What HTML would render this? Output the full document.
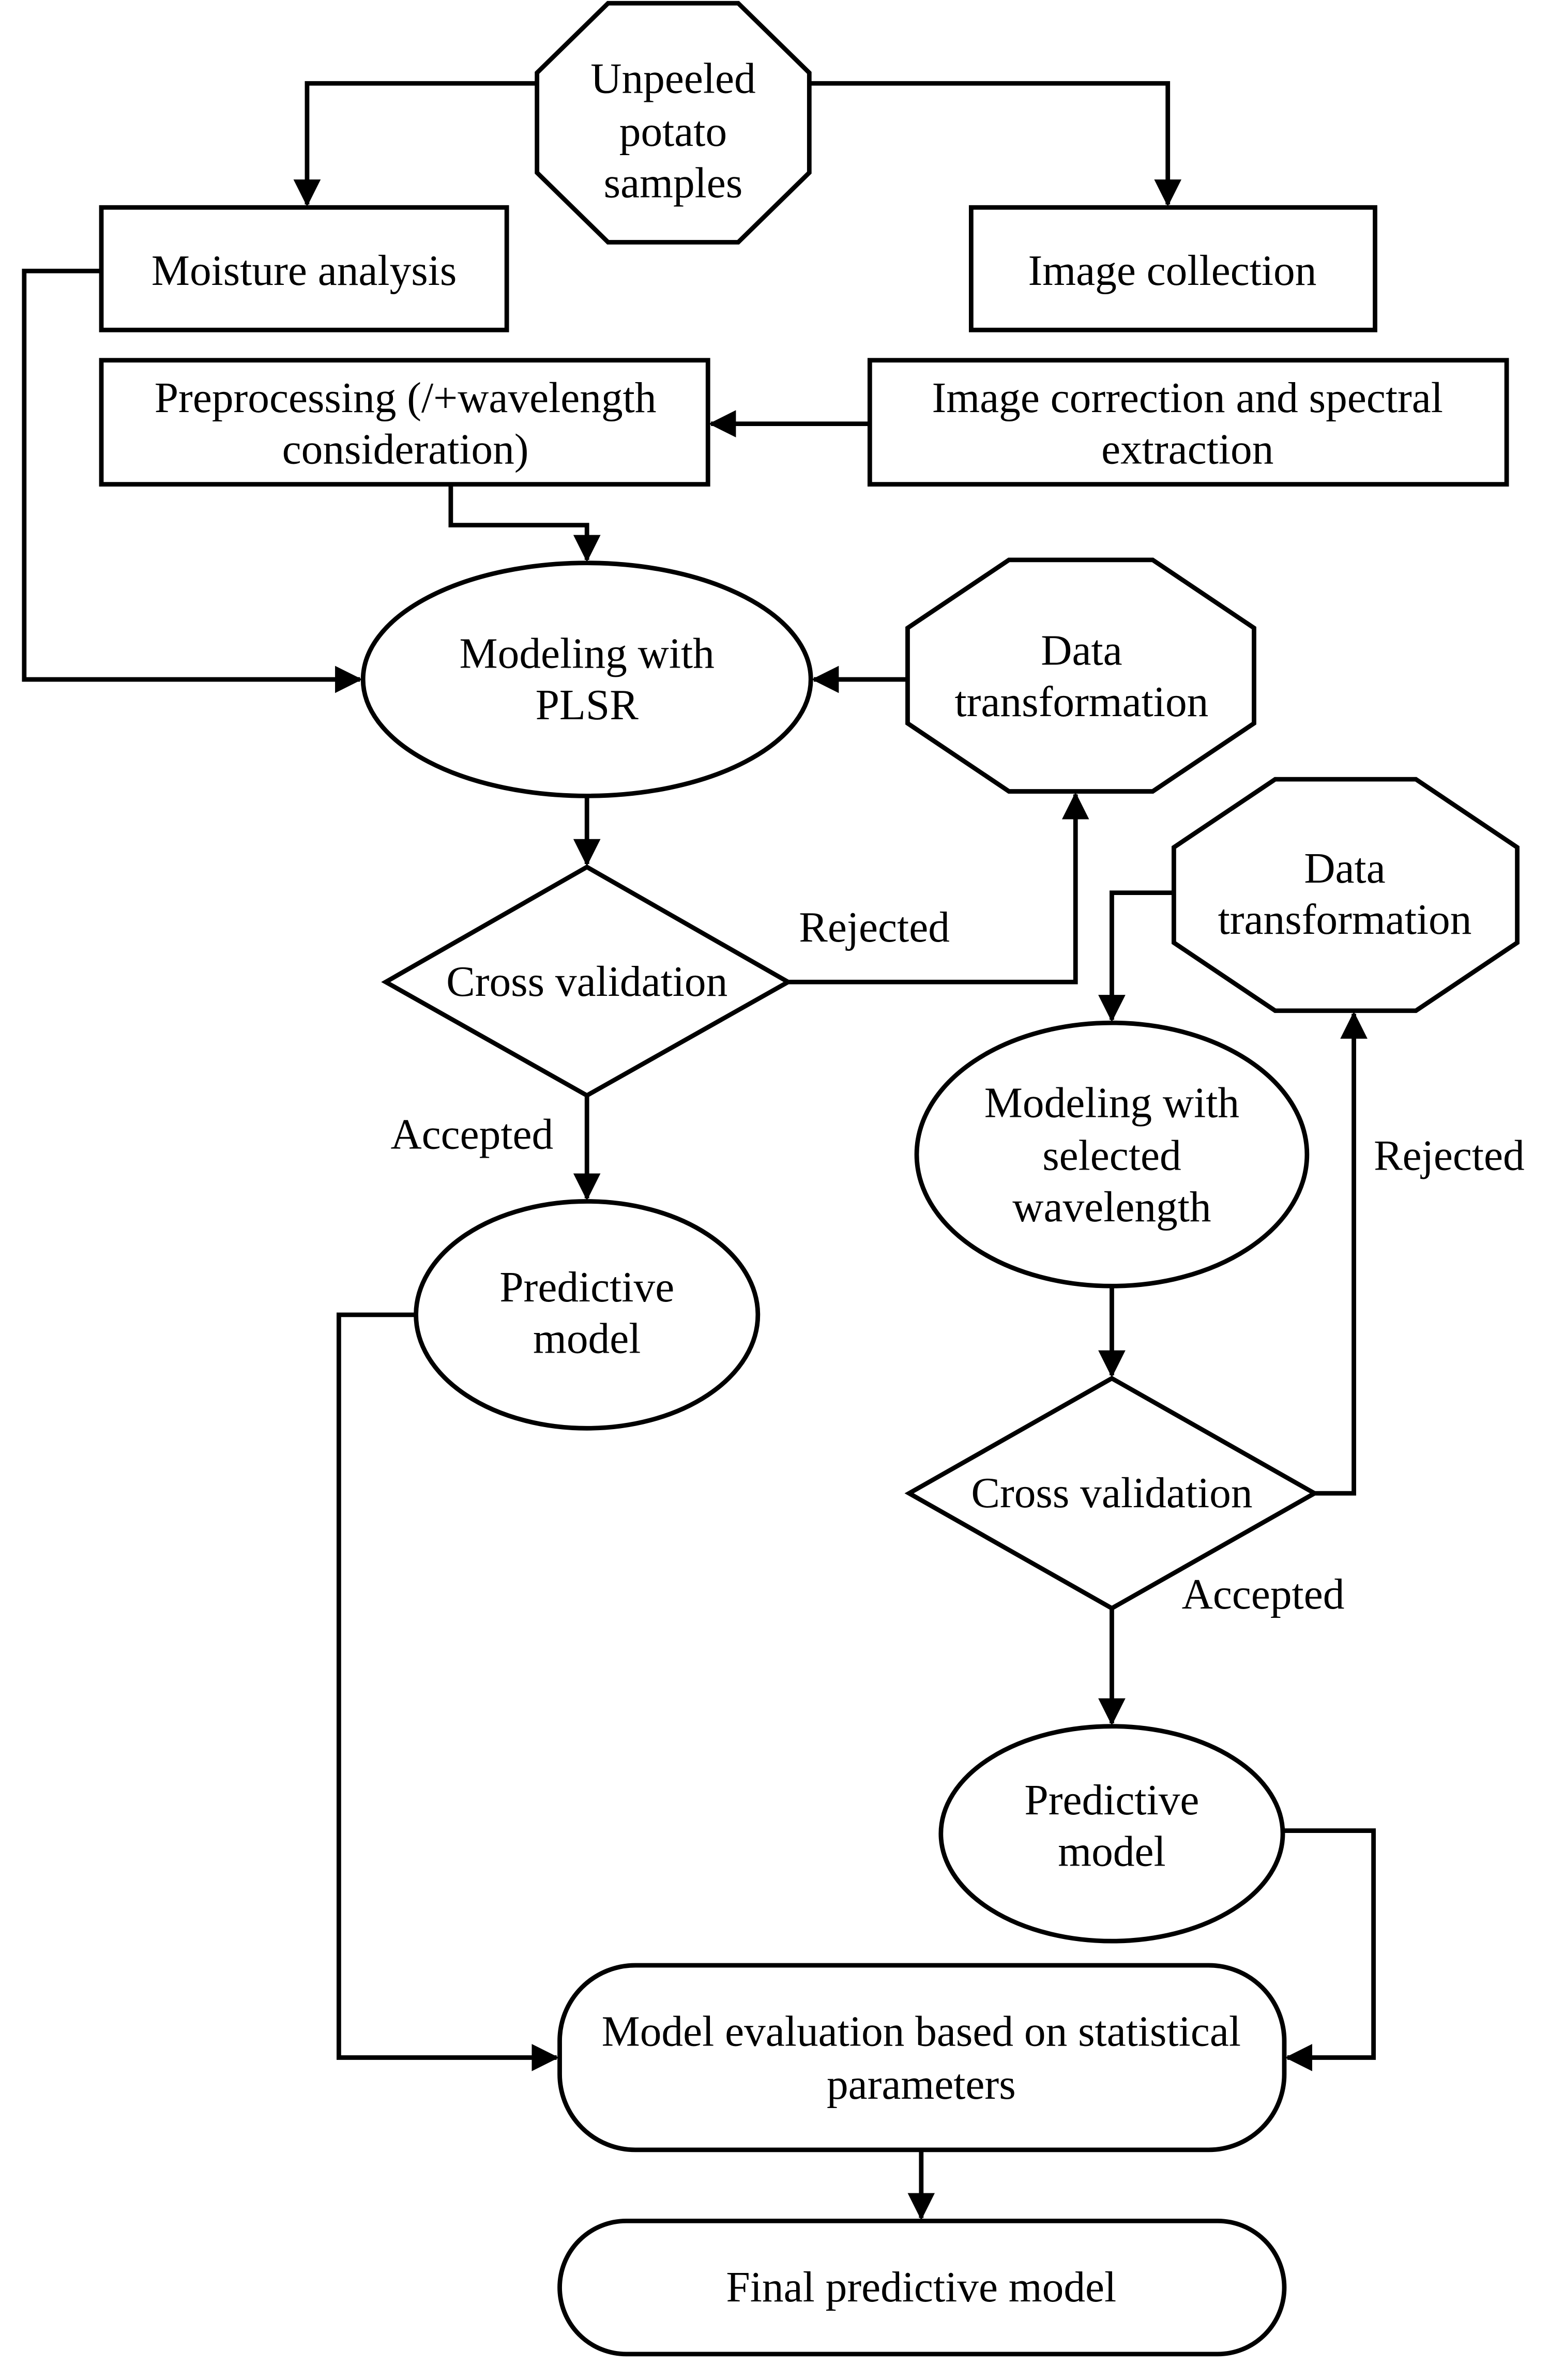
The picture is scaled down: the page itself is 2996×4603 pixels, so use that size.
<!DOCTYPE html>
<html><head><meta charset="utf-8"><style>html,body{margin:0;padding:0;background:#fff}svg{display:block}</style></head>
<body>
<svg width="2996" height="4603" viewBox="0 0 1024 1573" xmlns="http://www.w3.org/2000/svg">
<defs>
<marker id="a" markerWidth="6" markerHeight="6" refX="5.5" refY="3" orient="auto" markerUnits="strokeWidth">
<path d="M0,0 L6,3 L0,6 z" fill="#000"/></marker>
</defs>
<g fill="none" stroke="#000" stroke-width="3">
<polygon points="402,2 488,2 535,48 535,114 488,160 402,160 355,114 355,48" fill="#fff"/>
<rect x="67" y="137" width="268" height="81"/>
<rect x="642" y="137" width="267" height="81"/>
<rect x="67" y="238" width="401" height="82"/>
<rect x="575" y="238" width="421" height="82"/>
<ellipse cx="388" cy="449" rx="148" ry="77"/>
<polygon points="667,370 762,370 829,415 829,478 762,523 667,523 600,478 600,415"/>
<polygon points="388,573 521,649 388,724 255,649"/>
<ellipse cx="388" cy="869" rx="113" ry="75"/>
<polygon points="843,515 936,515 1003,560 1003,623 936,668 843,668 776,623 776,560"/>
<ellipse cx="735" cy="763" rx="129" ry="87"/>
<polygon points="735,911 869,987 735,1063 601,987"/>
<ellipse cx="735" cy="1212" rx="113" ry="71"/>
<rect x="370" y="1299" width="479" height="122" rx="50"/>
<rect x="370" y="1468" width="479" height="88" rx="44"/>
<polyline points="355,55 203,55 203,135" marker-end="url(#a)"/>
<polyline points="535,55 772,55 772,135" marker-end="url(#a)"/>
<polyline points="575,280 470,280" marker-end="url(#a)"/>
<polyline points="298,320 298,347 388,347 388,370" marker-end="url(#a)"/>
<polyline points="67,179 16,179 16,449 238,449" marker-end="url(#a)"/>
<polyline points="600,449 538,449" marker-end="url(#a)"/>
<polyline points="388,526 388,571" marker-end="url(#a)"/>
<polyline points="521,649 711,649 711,525" marker-end="url(#a)"/>
<polyline points="388,724 388,792" marker-end="url(#a)"/>
<polyline points="275,869 224,869 224,1360 368,1360" marker-end="url(#a)"/>
<polyline points="776,590 735,590 735,674" marker-end="url(#a)"/>
<polyline points="735,850 735,909" marker-end="url(#a)"/>
<polyline points="869,987 895,987 895,670" marker-end="url(#a)"/>
<polyline points="735,1063 735,1139" marker-end="url(#a)"/>
<polyline points="849,1210 908,1210 908,1360 851,1360" marker-end="url(#a)"/>
<polyline points="609,1421 609,1466" marker-end="url(#a)"/>
</g>
<g font-family="'Liberation Serif', serif" font-size="28.5" text-anchor="middle" fill="#000" dominant-baseline="central">
<text x="445" y="52">Unpeeled</text><text x="445" y="87">potato</text><text x="445" y="121">samples</text>
<text x="201" y="179">Moisture analysis</text>
<text x="775" y="179">Image collection</text>
<text x="268" y="263">Preprocessing (/+wavelength</text><text x="268" y="297">consideration)</text>
<text x="785" y="263">Image correction and spectral</text><text x="785" y="297">extraction</text>
<text x="388" y="432">Modeling with</text><text x="388" y="466">PLSR</text>
<text x="715" y="430">Data</text><text x="715" y="464">transformation</text>
<text x="388" y="649">Cross validation</text>
<text x="578" y="613">Rejected</text>
<text x="312" y="750">Accepted</text>
<text x="388" y="851">Predictive</text><text x="388" y="885">model</text>
<text x="889" y="574">Data</text><text x="889" y="608">transformation</text>
<text x="735" y="729">Modeling with</text><text x="735" y="764">selected</text><text x="735" y="798">wavelength</text>
<text x="735" y="987">Cross validation</text>
<text x="958" y="764">Rejected</text>
<text x="835" y="1054">Accepted</text>
<text x="735" y="1190">Predictive</text><text x="735" y="1224">model</text>
<text x="609" y="1343">Model evaluation based on statistical</text><text x="609" y="1378">parameters</text>
<text x="609" y="1512">Final predictive model</text>
</g>
</svg>
</body></html>
